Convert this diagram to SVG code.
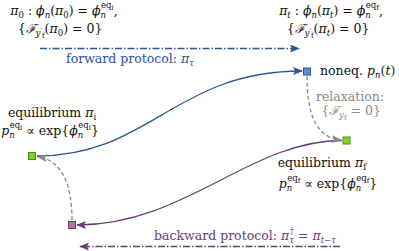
<svg xmlns="http://www.w3.org/2000/svg" width="399" height="251" viewBox="0 0 399 251">
<defs>
<style>
text{font-family:"DejaVu Serif",serif;font-size:12.5px;fill:#111;}
.i{font-style:italic;}
.s{font-size:8.5px;}
.ss{font-size:7px;}
.blue{fill:#2f5597;}
.purple{fill:#6b3c78;}
.gray{fill:#8a8a8a;}
.c{fill:none;stroke-width:1.3;}
</style>
<marker id="ab" viewBox="0 0 10 8" refX="9" refY="4" markerWidth="10" markerHeight="8" markerUnits="userSpaceOnUse" orient="auto"><path d="M0,0 L10,4 L0,8 L2,4 z" fill="#2f5597"/></marker>
<marker id="ap" viewBox="0 0 10 8" refX="9" refY="4" markerWidth="10" markerHeight="8" markerUnits="userSpaceOnUse" orient="auto"><path d="M0,0 L10,4 L0,8 L2,4 z" fill="#6b3c78"/></marker>
<marker id="ag" viewBox="0 0 10 8" refX="9" refY="4" markerWidth="10" markerHeight="8" markerUnits="userSpaceOnUse" orient="auto"><path d="M0,0 L10,4 L0,8 L2,4 z" fill="#8a8a8a"/></marker>
</defs>
<rect width="399" height="251" fill="#fff"/>

<g id="connectors">
<path class="c" d="M40,48.5 L299,48.5" stroke="#2f5597" stroke-dasharray="7,2,1.5,2" marker-end="url(#ab)"/>
<path class="c" d="M340,246.5 L80,246.5" stroke="#6b3c78" stroke-dasharray="7,2,1.5,2" marker-end="url(#ap)"/>
<path class="c" d="M37,156 C150,156 175,71 302,71" stroke="#2f5597" marker-end="url(#ab)"/>
<path class="c" d="M342,140.5 C250,140.5 185,225 77,225" stroke="#6b3c78" marker-end="url(#ap)"/>
<path class="c" d="M307,76 C307,118 318,138 341,140" stroke="#8a8a8a" stroke-dasharray="4,2.5" marker-end="url(#ag)"/>
<path class="c" d="M72,220 C72,185 62,160 38,157" stroke="#8a8a8a" stroke-dasharray="4,2.5" marker-end="url(#ag)"/>
</g>

<g id="node-noneq">
<rect x="303.5" y="68" width="7" height="7" fill="#5b8fd0" stroke="#2f5597" stroke-width="1"/>
<text x="320" y="75">noneq. <tspan class="i">p</tspan><tspan class="s i" dy="3">n</tspan><tspan dy="-3">(</tspan><tspan class="i">t</tspan>)</text>
</g>

<g id="node-eq-i">
<rect x="28.5" y="152.5" width="7" height="7" fill="#7ed321" stroke="#4a8f16" stroke-width="1"/>
<text x="52" y="117" text-anchor="middle">equilibrium <tspan class="i">π</tspan><tspan class="s" dy="3">i</tspan></text>
<text x="50" y="135" text-anchor="middle"><tspan class="i">p</tspan><tspan class="s i" dy="3">n</tspan><tspan class="s" dx="-5" dy="-10">eq</tspan><tspan class="ss" dy="2">i</tspan><tspan dy="5"> ∝ exp{</tspan><tspan class="i">ϕ</tspan><tspan class="s i" dy="3">n</tspan><tspan class="s" dx="-5" dy="-10">eq</tspan><tspan class="ss" dy="2">i</tspan><tspan dy="5">}</tspan></text>
</g>

<g id="node-eq-f">
<rect x="343" y="137" width="7" height="7" fill="#7ed321" stroke="#4a8f16" stroke-width="1"/>
<text x="322" y="167" text-anchor="middle">equilibrium <tspan class="i">π</tspan><tspan class="s" dy="3">f</tspan></text>
<text x="328" y="188" text-anchor="middle"><tspan class="i">p</tspan><tspan class="s i" dy="3">n</tspan><tspan class="s" dx="-5" dy="-10">eq</tspan><tspan class="ss" dy="2">f</tspan><tspan dy="5"> ∝ exp{</tspan><tspan class="i">ϕ</tspan><tspan class="s i" dy="3">n</tspan><tspan class="s" dx="-5" dy="-10">eq</tspan><tspan class="ss" dy="2">f</tspan><tspan dy="5">}</tspan></text>
</g>

<g id="node-backward">
<rect x="68.5" y="221.5" width="7" height="7" fill="#a77aa8" stroke="#6b3c78" stroke-width="1"/>
</g>

<g id="labels">
<text x="64" y="15" text-anchor="middle"><tspan class="i">π</tspan><tspan class="s" dy="3">0</tspan><tspan dy="-3"> : </tspan><tspan class="i">ϕ</tspan><tspan class="s i" dy="3">n</tspan><tspan dy="-3">(</tspan><tspan class="i">π</tspan><tspan class="s" dy="3">0</tspan><tspan dy="-3">) = </tspan><tspan class="i">ϕ</tspan><tspan class="s i" dy="3">n</tspan><tspan class="s" dx="-5" dy="-10">eq</tspan><tspan class="ss" dy="2">i</tspan><tspan dy="5">,</tspan></text>
<text x="60" y="33" text-anchor="middle">{<tspan class="i">ℱ</tspan><tspan class="s i" dy="3">y</tspan><tspan class="ss" dy="-3">′</tspan><tspan class="ss" dy="5">f</tspan><tspan dy="-5">(</tspan><tspan class="i">π</tspan><tspan class="s" dy="3">0</tspan><tspan dy="-3">) = 0}</tspan></text>
<text x="331" y="15" text-anchor="middle"><tspan class="i">π</tspan><tspan class="s i" dy="3">t</tspan><tspan dy="-3"> : </tspan><tspan class="i">ϕ</tspan><tspan class="s i" dy="3">n</tspan><tspan dy="-3">(</tspan><tspan class="i">π</tspan><tspan class="s i" dy="3">t</tspan><tspan dy="-3">) = </tspan><tspan class="i">ϕ</tspan><tspan class="s i" dy="3">n</tspan><tspan class="s" dx="-5" dy="-10">eq</tspan><tspan class="ss" dy="2">f</tspan><tspan dy="5">,</tspan></text>
<text x="328" y="33" text-anchor="middle">{<tspan class="i">ℱ</tspan><tspan class="s i" dy="3">y</tspan><tspan class="ss" dy="-3">′</tspan><tspan class="ss" dy="5">f</tspan><tspan dy="-5">(</tspan><tspan class="i">π</tspan><tspan class="s i" dy="3">t</tspan><tspan dy="-3">) = 0}</tspan></text>
<text class="blue" x="130" y="63" text-anchor="middle">forward protocol: <tspan class="i">π</tspan><tspan class="s i" dy="3">τ</tspan></text>
<text class="gray" x="350" y="101" text-anchor="middle">relaxation:</text>
<text class="gray" x="351" y="115" text-anchor="middle">{<tspan class="i">ℱ</tspan><tspan class="s i" dy="3">y</tspan><tspan class="ss" dy="2">f</tspan><tspan dy="-5"> = 0}</tspan></text>
<text class="purple" x="245" y="240" text-anchor="middle">backward protocol: <tspan class="i">π</tspan><tspan class="s i" dy="3">τ</tspan><tspan class="s" dx="-4" dy="-9">†</tspan><tspan dy="6"> = </tspan><tspan class="i">π</tspan><tspan class="s" dy="3"><tspan class="i">t</tspan>−<tspan class="i">τ</tspan></tspan></text>
</g>
</svg>
